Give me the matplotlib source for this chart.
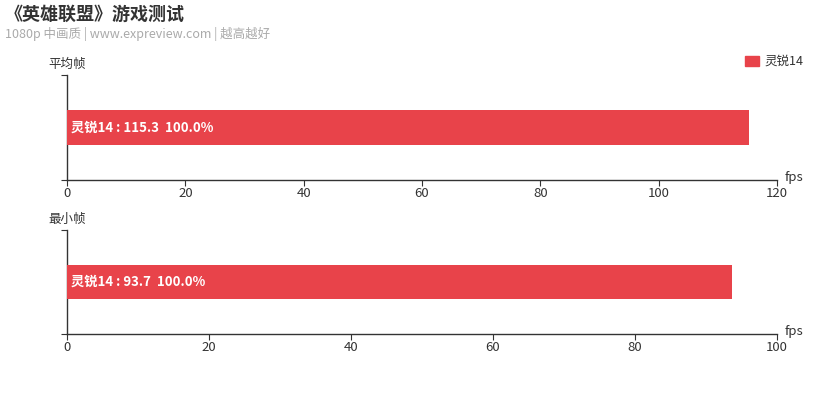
import matplotlib
matplotlib.use('Agg')
import matplotlib.pyplot as plt
import matplotlib.patheffects as pe

plt.rcParams['font.family'] = ['Noto Sans CJK SC', 'DejaVu Sans']

# data
series_name = '灵锐14'
panel_titles = ['平均帧', '最小帧']
values = [115.3, 93.7]
percents = [100.0, 100.0]
x_max = [120, 100]
x_ticks = [[0, 20, 40, 60, 80, 100, 120], [0, 20, 40, 60, 80, 100]]

bar_color = '#E8434A'
axis_color = '#333333'

fig = plt.figure(figsize=(8.37, 3.98), dpi=100)

W, H = 837, 398
panels = [(75, 180), (230, 334)]  # top, bottom in px
left_px, right_px = 67, 777

for i, (top, bot) in enumerate(panels):
    ax = fig.add_axes([left_px / W, 1 - bot / H, (right_px - left_px) / W, (bot - top) / H])
    bars = ax.barh([0], [values[i]], height=0.33, color=bar_color, zorder=3)
    for b in bars:
        b.set_path_effects([pe.SimplePatchShadow(offset=(0, 0), shadow_rgbFace='#999999', alpha=0.35),
                            pe.Normal()])
    ax.set_xlim(0, x_max[i])
    ax.set_ylim(-0.5, 0.5)
    ax.set_xticks(x_ticks[i])
    ax.set_yticks([-0.5, 0.5])
    ax.set_yticklabels([])
    for s in ['top', 'right']:
        ax.spines[s].set_visible(False)
    for s in ['left', 'bottom']:
        ax.spines[s].set_color(axis_color)
        ax.spines[s].set_linewidth(1)
    ax.tick_params(axis='x', length=4, color=axis_color, labelsize=9.5, labelcolor='#333333', pad=1)
    ax.tick_params(axis='y', length=4, color=axis_color)
    ax.text(x_max[i] * 0.006, 0, f'{series_name} : {values[i]}  {percents[i]:.1f}%',
            color='white', fontsize=9.5, fontweight='bold', va='center', ha='left', zorder=4)
    ax.text(-0.026, 1.04, panel_titles[i], transform=ax.transAxes, fontsize=9,
            color='#333333', ha='left', va='bottom')
    ax.text(1.01, 0.02, 'fps', transform=ax.transAxes, fontsize=9.5,
            color='#333333', ha='left', va='center')

fig.text(5 / W, 1 - 14 / H, '《英雄联盟》游戏测试', fontsize=13, fontweight='bold',
         color='#333333', ha='left', va='center')
fig.text(5 / W, 1 - 34 / H, '1080p 中画质 | www.expreview.com | 越高越好', fontsize=9,
         color='#aaaaaa', ha='left', va='center')

# legend
fig.patches.append(plt.Rectangle((745 / W, 1 - 66 / H), 14 / W, 10 / H, transform=fig.transFigure,
                                 color=bar_color, figure=fig))
fig.text(764 / W, 1 - 61 / H, series_name, fontsize=9, color='#333333', ha='left', va='center')

fig.savefig('out.png', dpi=100)
